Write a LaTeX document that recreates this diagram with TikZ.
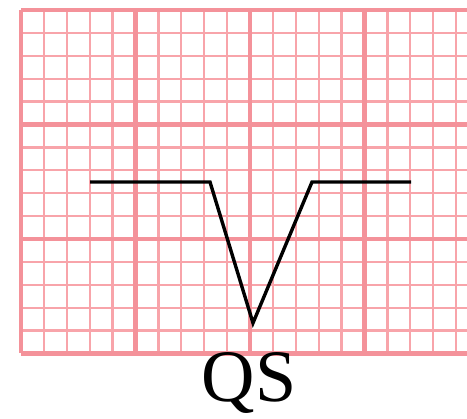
\documentclass[tikz,border=0pt]{standalone}
\usepackage{fontspec}
\setmainfont{Liberation Serif}
\usepackage{tikz}
\usetikzlibrary{positioning}
\definecolor{gridpink}{RGB}{248,164,170}
\definecolor{gridpinkdark}{RGB}{244,146,154}
\tikzset{
  minor/.style={draw=gridpink, line width=2.3pt},
  major/.style={draw=gridpinkdark, line width=4.2pt},
  trace/.style={draw=black, line width=3.4pt, line join=miter},
  wavelabel/.style={font=\fontsize{74}{76}\selectfont, inner sep=0pt, anchor=base},
}
\begin{document}
\begin{tikzpicture}[x=1pt,y=-1pt]
  \useasboundingbox (0,0) rectangle (467,419);
  % ECG paper
  \begin{scope}
    \clip (0,0) rectangle (467,419);
    \foreach \i in {0,...,20}{\draw[minor] (21+22.9*\i,10) -- (21+22.9*\i,353.5);}
    \foreach \j in {0,...,15}{\draw[minor] (21,10+22.9*\j) -- (480,10+22.9*\j);}
    \foreach \i in {0,...,4}{\draw[major] (21+114.5*\i,10) -- (21+114.5*\i,353.5);}
    \foreach \j in {0,...,3}{\draw[major] (21,10+114.5*\j) -- (480,10+114.5*\j);}
  \end{scope}
  % QS complex
  \coordinate (start) at (90,182);
  \coordinate (qon) at (210,182);
  \coordinate (nadir) at (253,323);
  \coordinate (soff) at (312,182);
  \coordinate (stop) at (411,182);
  \draw[trace] (start) -- (qon) -- (nadir) -- (soff) -- (stop);
  \node[wavelabel] (qs) at (249,402) {QS};
\end{tikzpicture}
\end{document}
